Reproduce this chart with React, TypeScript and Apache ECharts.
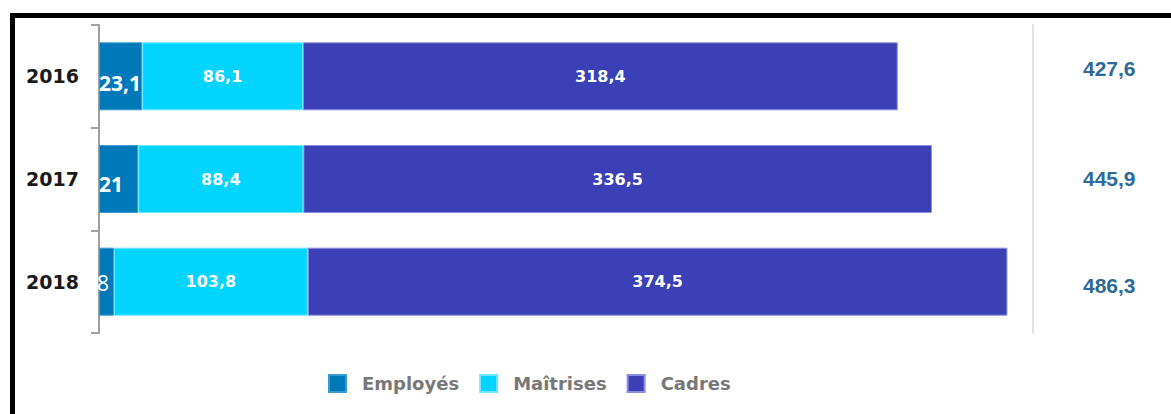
import React, { useEffect, useRef } from "react";
import * as echarts from "echarts";

const categories = ["2016", "2017", "2018"];
const employes = [23.1, 21, 8];
const maitrises = [86.1, 88.4, 103.8];
const cadres = [318.4, 336.5, 374.5];
const seriesNames = ["Employés", "Maîtrises", "Cadres"];

const fmt = (v: number) => String(v).replace(".", ",");

export default function App() {
  const ref = useRef<HTMLDivElement>(null);
  useEffect(() => {
    if (!ref.current) return;
    const chart = echarts.init(ref.current, null, { renderer: "svg" });
    const totals = categories.map((_, i) =>
      fmt(Math.round((employes[i] + maitrises[i] + cadres[i]) * 10) / 10)
    );
    const innerLabel = {
      show: true,
      position: "inside",
      color: "#ffffff",
      fontFamily: "DejaVu Sans",
      fontWeight: "bold",
      fontSize: 16,
      formatter: (p: any) => fmt(p.value),
    };
    const totalStyle = {
      color: "#2d6a98",
      fontFamily: "Liberation Sans",
      fontWeight: "bold",
      fontSize: 21,
    };
    chart.setOption({
      animation: false,
      backgroundColor: "#ffffff",
      grid: { left: 99, top: 25, right: 138, height: 308, containLabel: false },
      xAxis: {
        type: "value",
        min: 0,
        max: 500,
        show: false,
        splitLine: { show: false },
      },
      yAxis: [
        {
          type: "category",
          inverse: true,
          data: categories,
          axisLine: { show: true, lineStyle: { color: "#a0a0a0", width: 2 } },
          axisTick: { show: true, length: 8, lineStyle: { color: "#a0a0a0", width: 2 } },
          axisLabel: {
            margin: 20,
            color: "#1a1a1a",
            fontFamily: "DejaVu Sans",
            fontWeight: "bold",
            fontSize: 19,
          },
        },
        {
          type: "category",
          inverse: true,
          position: "right",
          data: totals,
          axisLine: { show: true, lineStyle: { color: "#e2e2e2", width: 2 } },
          axisTick: { show: false },
          axisLabel: {
            margin: 50,
            ...totalStyle,
            formatter: (v: string, i: number) => `{r${i}|${v}}`,
            rich: {
              r0: { ...totalStyle, padding: [0, 0, 16, 0] },
              r1: { ...totalStyle, padding: [0, 0, 2, 0] },
              r2: { ...totalStyle, padding: [8, 0, 0, 0] },
            },
          },
        },
      ],
      legend: {
        left: 323,
        top: 369,
        itemWidth: 17,
        itemHeight: 17,
        itemGap: 20,
        icon: "rect",
        textStyle: {
          color: "#787878",
          fontFamily: "DejaVu Sans",
          fontWeight: "bold",
          fontSize: 18,
          padding: [0, 0, 0, 11],
        },
        data: seriesNames,
      },
      series: [
        {
          name: seriesNames[0],
          type: "bar",
          stack: "t",
          barWidth: 68,
          itemStyle: { color: "#0079bb", borderColor: "#3a9ad0", borderWidth: 1 },
          data: employes.map((v, i) => ({
            value: v,
            label: {
              show: true,
              position: "insideLeft",
              distance: 0,
              color: "#ffffff",
              fontFamily: "Open Sans",
              fontWeight: i < 2 ? "bold" : "normal",
              fontSize: 21,
              offset: i === 0 ? [0, 7] : i === 1 ? [0, 5] : [-2, 1],
              formatter: (p: any) => fmt(p.value),
            },
          })),
        },
        {
          name: seriesNames[1],
          type: "bar",
          stack: "t",
          barWidth: 68,
          itemStyle: { color: "#00d4ff", borderColor: "#6fe6ff", borderWidth: 1 },
          label: innerLabel,
          data: maitrises,
        },
        {
          name: seriesNames[2],
          type: "bar",
          stack: "t",
          barWidth: 68,
          itemStyle: { color: "#3b40b7", borderColor: "#8a8ee0", borderWidth: 1 },
          label: innerLabel,
          data: cadres,
        },
      ],
      graphic: [
        { type: "rect", shape: { x: 10, y: 13, width: 1161, height: 5 }, style: { fill: "#000000" } },
        { type: "rect", shape: { x: 10, y: 13, width: 5, height: 401 }, style: { fill: "#000000" } },
      ],
    });
    return () => chart.dispose();
  }, []);
  return (
    <div
      ref={ref}
      style={{ position: "fixed", left: 0, top: 0, width: 1171, height: 414 }}
    />
  );
}
